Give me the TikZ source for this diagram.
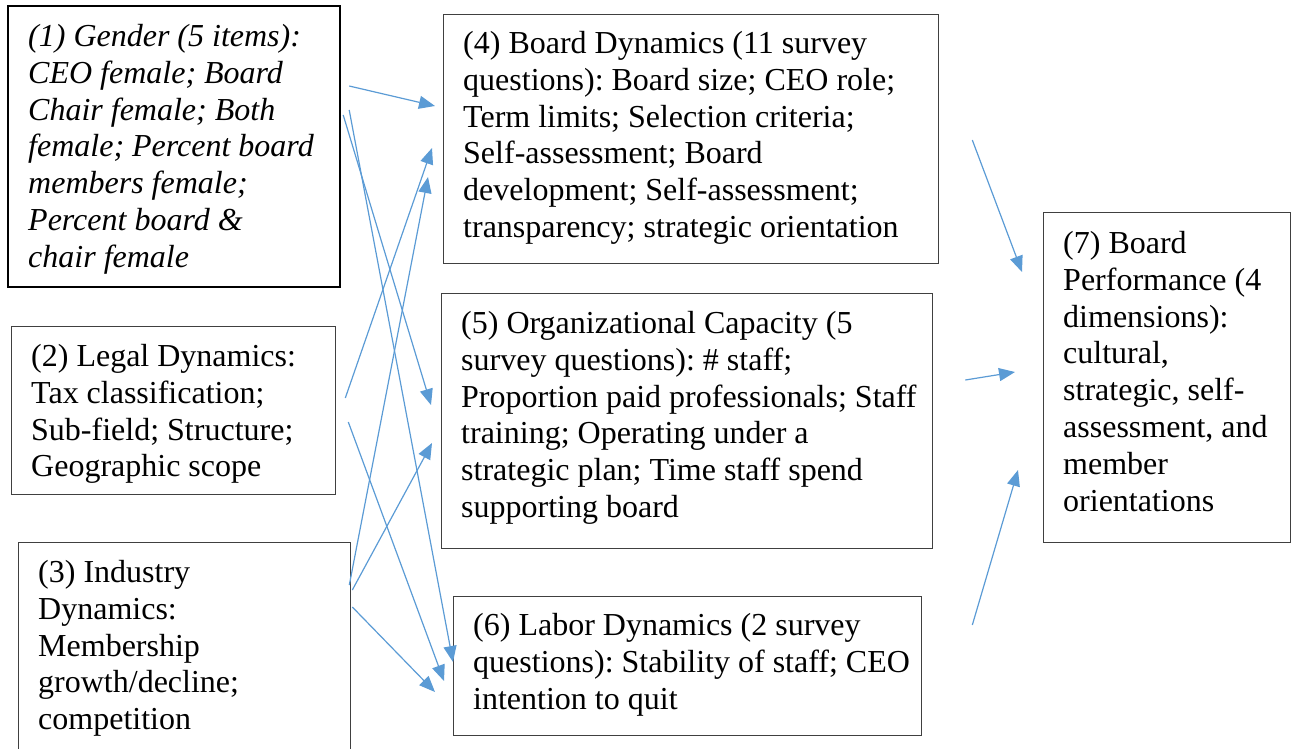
\documentclass[tikz,border=0pt]{standalone}
\usepackage{fontspec}
\setmainfont{Liberation Serif}
\usetikzlibrary{arrows.meta}
\definecolor{arrowblue}{RGB}{91,155,213}
\definecolor{boxgray}{RGB}{64,64,64}
\frenchspacing

\begin{document}
\begin{tikzpicture}[x=1pt,y=-1pt,
		box/.style={draw=boxgray,line width=1.3pt,rectangle,inner sep=0pt,anchor=north west},
		txt/.style={inner sep=0pt,anchor=north west,align=left,font=\fontsize{32}{36.9}\selectfont},
		arr/.style={draw=arrowblue,line width=1.2pt,-{Triangle[length=16pt,width=13pt]}}]
		%%%%% START %%%%%
		\useasboundingbox (0,0) rectangle (1293,748);
		\clip (0,0) rectangle (1293,748);
		
		% left column
		\node[box,draw=black,line width=2.2pt,minimum width=332,minimum height=281] (gender) at (7,5) {};
		\node[txt,font=\itshape\fontsize{32}{36.9}\selectfont] (gendertext) at ([shift={(21,15.2)}]gender.north west)
			{\strut(1) Gender (5 items):\\CEO female; Board\\Chair female; Both\\female; Percent board\\members female;\\Percent board \&\\chair female};
		
		\node[box,minimum width=324,minimum height=168] (legal) at (11,326) {};
		\node[txt] (legaltext) at ([shift={(20,14.2)}]legal.north west)
			{\strut(2) Legal Dynamics:\\Tax classification;\\Sub-field; Structure;\\Geographic scope};
		
		\node[box,minimum width=332,minimum height=260] (industry) at (18,542) {};
		\node[txt] (industrytext) at ([shift={(20,14.2)}]industry.north west)
			{\strut(3) Industry\\Dynamics:\\Membership\\growth/decline;\\competition};
		
		% middle column
		\node[box,minimum width=495,minimum height=249] (board) at (443,14) {};
		\node[txt] (boardtext) at ([shift={(20,13.2)}]board.north west)
			{\strut(4) Board Dynamics (11 survey\\questions): Board size; CEO role;\\Term limits; Selection criteria;\\Self-assessment; Board\\development; Self-assessment;\\transparency; strategic orientation};
		
		\node[box,minimum width=491,minimum height=255] (capacity) at (441,293) {};
		\node[txt] (capacitytext) at ([shift={(20,14.2)}]capacity.north west)
			{\strut(5) Organizational Capacity (5\\survey questions): \# staff;\\Proportion paid professionals; Staff\\training; Operating under a\\strategic plan; Time staff spend\\supporting board};
		
		\node[box,minimum width=468,minimum height=139] (labor) at (453,596) {};
		\node[txt] (labortext) at ([shift={(20,13.2)}]labor.north west)
			{\strut(6) Labor Dynamics (2 survey\\questions): Stability of staff; CEO\\intention to quit};
		
		% right column
		\node[box,minimum width=247,minimum height=330] (perf) at (1043,212) {};
		\node[txt] (perftext) at ([shift={(20,15.2)}]perf.north west)
			{\strut(7) Board\\Performance (4\\dimensions):\\cultural,\\strategic, self-\\assessment, and\\member\\orientations};
		
		% arrows into the middle column
		\draw[arr] ([shift={(8,81)}]gender.north east) -- ([shift={(-8,92)}]board.north west);
		\draw[arr] ([shift={(8,105)}]gender.north east) -- ([shift={(0,66)}]labor.north west);
		\draw[arr] ([shift={(2,110)}]gender.north east) -- ([shift={(-10,112)}]capacity.north west);
		\draw[arr] ([shift={(9,72)}]legal.north east) -- ([shift={(-11,134)}]board.north west);
		\draw[arr] ([shift={(12,96)}]legal.north east) -- ([shift={(-9,85)}]labor.north west);
		\draw[arr] ([shift={(-2,43)}]industry.north east) -- ([shift={(-15,163)}]board.north west);
		\draw[arr] ([shift={(1,48)}]industry.north east) -- ([shift={(-9,150)}]capacity.north west);
		\draw[arr] ([shift={(1,65)}]industry.north east) -- ([shift={(-18,96)}]labor.north west);
		
		% arrows into board performance
		\draw[arr] ([shift={(33,126)}]board.north east) -- ([shift={(-21,60)}]perf.north west);
		\draw[arr] ([shift={(32,87)}]capacity.north east) -- ([shift={(-28,160)}]perf.north west);
		\draw[arr] ([shift={(50,29)}]labor.north east) -- ([shift={(-25,258)}]perf.north west);
		%%%%% END %%%%%
	\end{tikzpicture}
\end{document}
